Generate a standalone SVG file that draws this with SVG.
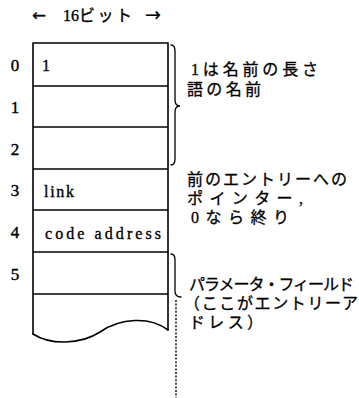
<svg xmlns="http://www.w3.org/2000/svg" width="359" height="398" viewBox="0 0 359 398">
<style>
.ln{fill:none;stroke:#000;stroke-width:1.6;stroke-linecap:round;stroke-linejoin:round}
.dv{fill:none;stroke:#000;stroke-width:1.3}
.br{fill:none;stroke:#000;stroke-width:1.3;stroke-linecap:round}
.dot{fill:none;stroke:#000;stroke-width:1.4;stroke-dasharray:2 1.6}
.t{font-family:"Liberation Serif","Noto Sans CJK JP",serif;font-size:16px;fill:#000;stroke:#000;stroke-width:0.35}
.j{font-family:"Liberation Serif","Noto Sans CJK JP",serif;font-size:16px;fill:#000;stroke:#000;stroke-width:0.3}
.n{font-family:"Liberation Serif","Noto Sans CJK JP",serif;font-size:17px;fill:#000;stroke:#000;stroke-width:0.4;text-anchor:middle}
</style>
<rect width="359" height="398" fill="#fff"/>
<g id="header">
<text class="t" y="21"><tspan x="32" font-family="'DejaVu Sans',sans-serif" font-size="17" stroke-width="0.2">←</tspan><tspan x="63" font-size="16">16</tspan><tspan x="79" letter-spacing="2.5">ビット</tspan><tspan x="145" font-family="'DejaVu Sans',sans-serif" font-size="19" stroke-width="0.2">→</tspan></text>
</g>
<g id="entry">
<path class="ln" d="M33,334 L33,43 L168,43 L168,330"/>
<path class="ln" d="M33,334 C50,345 80,345 100,332 C120,318 150,316 168,330"/>
<line class="dv" x1="33" y1="86" x2="168" y2="86"/>
<line class="dv" x1="33" y1="127" x2="168" y2="127"/>
<line class="dv" x1="33" y1="169" x2="168" y2="169"/>
<line class="dv" x1="33" y1="210" x2="168" y2="210"/>
<line class="dv" x1="33" y1="252" x2="168" y2="252"/>
<line class="dv" x1="33" y1="294" x2="168" y2="294"/>
</g>
<g id="row-numbers">
<text class="n" x="15" y="71">0</text>
<text class="n" x="15" y="113">1</text>
<text class="n" x="15" y="155">2</text>
<text class="n" x="15" y="196">3</text>
<text class="n" x="15" y="238">4</text>
<text class="n" x="15" y="280">5</text>
</g>
<g id="cell-0"><text class="t" x="42" y="71">1</text></g>
<g id="cell-3"><text class="t" x="44" y="197" textLength="30" lengthAdjust="spacing">link</text></g>
<g id="cell-4"><text class="t" x="45" y="239" textLength="116" lengthAdjust="spacing">code address</text></g>
<g id="connectors">
<path class="br" d="M171,45 Q175,45 175,51 L175,100 Q175,106 180,106 Q175,106 175,112 L175,159 Q175,165 171,165"/>
<path class="br" d="M171,254 Q175,254 175,260 L175,291 Q175,297 181,297"/>
<line class="dot" x1="176" y1="300" x2="176" y2="398"/>
</g>
<g id="note-name">
<text class="j" x="191" y="75" textLength="127" lengthAdjust="spacing">1は名前の長さ</text>
<text class="j" x="187" y="95" textLength="74" lengthAdjust="spacing">語の名前</text>
</g>
<g id="note-link">
<text class="j" x="187" y="185" textLength="160" lengthAdjust="spacing">前のエントリーへの</text>
<text class="j" x="187" y="204" textLength="116" lengthAdjust="spacing">ポインター,</text>
<text class="j" x="191" y="223" textLength="98" lengthAdjust="spacing">0なら終り</text>
</g>
<g id="note-param">
<text class="j" x="189" y="290" textLength="165" lengthAdjust="spacing">パラメータ・フィールド</text>
<text class="j" x="184" y="309" textLength="174" lengthAdjust="spacing">（ここがエントリーア</text>
<text class="j" x="189" y="328" textLength="74" lengthAdjust="spacing">ドレス）</text>
</g>
</svg>
